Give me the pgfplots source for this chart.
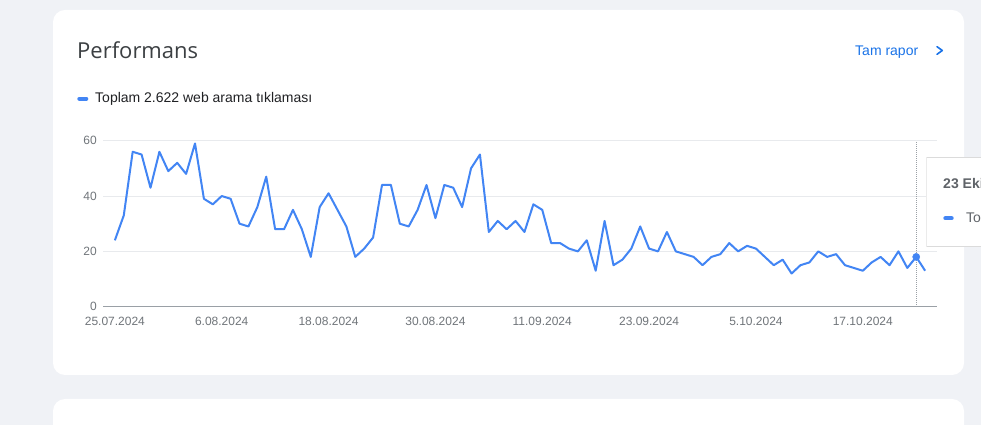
\documentclass[border=0pt]{standalone}
\usepackage{fontspec}
\setmainfont{Liberation Sans}
\newfontfamily\titlefont{Open Sans}
\usepackage{pgfplots}
\pgfplotsset{compat=1.18}
\definecolor{pagebg}{RGB}{240,242,246}
\definecolor{gblue}{RGB}{66,133,244}
\definecolor{linkblue}{RGB}{26,115,232}
\definecolor{titlegray}{RGB}{60,64,67}
\definecolor{textdark}{RGB}{32,33,36}
\definecolor{tickgray}{RGB}{112,117,122}
\definecolor{gridgray}{RGB}{232,234,237}
\definecolor{axisgray}{RGB}{154,160,166}
\definecolor{tipgray}{RGB}{95,99,104}
\pgfplotstableread{
x y
0 24
1 33
2 56
3 55
4 43
5 56
6 49
7 52
8 48
9 59
10 39
11 37
12 40
13 39
14 30
15 29
16 36
17 47
18 28
19 28
20 35
21 28
22 18
23 36
24 41
25 35
26 29
27 18
28 21
29 25
30 44
31 44
32 30
33 29
34 35
35 44
36 32
37 44
38 43
39 36
40 50
41 55
42 27
43 31
44 28
45 31
46 27
47 37
48 35
49 23
50 23
51 21
52 20
53 24
54 13
55 31
56 15
57 17
58 21
59 29
60 21
61 20
62 27
63 20
64 19
65 18
66 15
67 18
68 19
69 23
70 20
71 22
72 21
73 18
74 15
75 17
76 12
77 15
78 16
79 20
80 18
81 19
82 15
83 14
84 13
85 16
86 18
87 15
88 20
89 14
90 18
91 13
}\clicks
\begin{document}
\begin{tikzpicture}[x=1pt,y=1pt]
\useasboundingbox (0,0) rectangle (981,425);
\begin{scope}
\clip (0,0) rectangle (981,425);
\fill[pagebg] (0,0) rectangle (981,425);
\fill[white, rounded corners=12pt] (53,50) rectangle (964,415);
\fill[white, rounded corners=12pt] (53,-30) rectangle (964,26);
\end{scope}
% header
\node[anchor=base west, inner sep=0pt, text=titlegray, font=\titlefont\fontsize{22}{26}\selectfont] at (77,366.7) {Performans};
\node[anchor=base west, inner sep=0pt, text=linkblue, font=\fontsize{14}{17}\selectfont] at (855,369.7) {Tam rapor};
\draw[linkblue, line width=1.6pt, line cap=round, line join=round] (937,378.3) -- (942.3,374.5) -- (937,370.7);
% legend
\draw[gblue, line width=4pt, line cap=round] (79.3,326.3) -- (86.3,326.3);
\node[anchor=base west, inner sep=0pt, text=textdark, font=\fontsize{14}{17}\selectfont] at (95,322.3) {Toplam 2.622 web arama tıklaması};
\begin{axis}[
  at={(103.3pt,118.3pt)}, anchor=south west,
  width=833.4pt, height=166pt, scale only axis,
  xmin=-1.3, xmax=92.3, ymin=0, ymax=60,
  axis x line*=bottom, axis y line*=left,
  x axis line style={draw=axisgray, line width=1pt},
  y axis line style={draw=none},
  major tick length=0pt,
  ytick={0,20,40,60},
  ymajorgrids, grid style={draw=gridgray, line width=0.8pt},
  xtick={0,12,24,36,48,60,72,84},
  xticklabels={25.07.2024,6.08.2024,18.08.2024,30.08.2024,11.09.2024,23.09.2024,5.10.2024,17.10.2024},
  /pgf/number format/assume math mode=true,
  tick label style={text=tickgray, font=\fontsize{12}{14}\selectfont},
  yticklabel style={anchor=east, xshift=-3pt},
  xticklabel style={anchor=north, yshift=-7pt},
  clip=false,
]
\addplot[axisgray, densely dotted, line width=1pt] coordinates {(90,0) (90,60)};
\addplot[gblue, line width=2pt, line join=round, mark=none] table[x=x,y=y] {\clicks};
\addplot[only marks, mark=*, mark size=3.6pt, gblue] coordinates {(90,18)};
\end{axis}
% tooltip
\fill[black!8] (926.2,178) rectangle (990,268.2);
\fill[black!14] (926.7,178.3) rectangle (990,267.7);
\fill[white] (927.2,179) rectangle (990,267.2);
\node[anchor=base west, inner sep=0pt, text=tipgray, font=\bfseries\fontsize{14}{17}\selectfont] at (943,236.7) {23 Ekim 2024};
\draw[gblue, line width=4pt, line cap=round] (945.3,206.7) -- (951.7,206.7);
\node[anchor=base west, inner sep=0pt, text=tipgray, font=\fontsize{14}{17}\selectfont] at (966,202) {Toplam};
\end{tikzpicture}
\end{document}
